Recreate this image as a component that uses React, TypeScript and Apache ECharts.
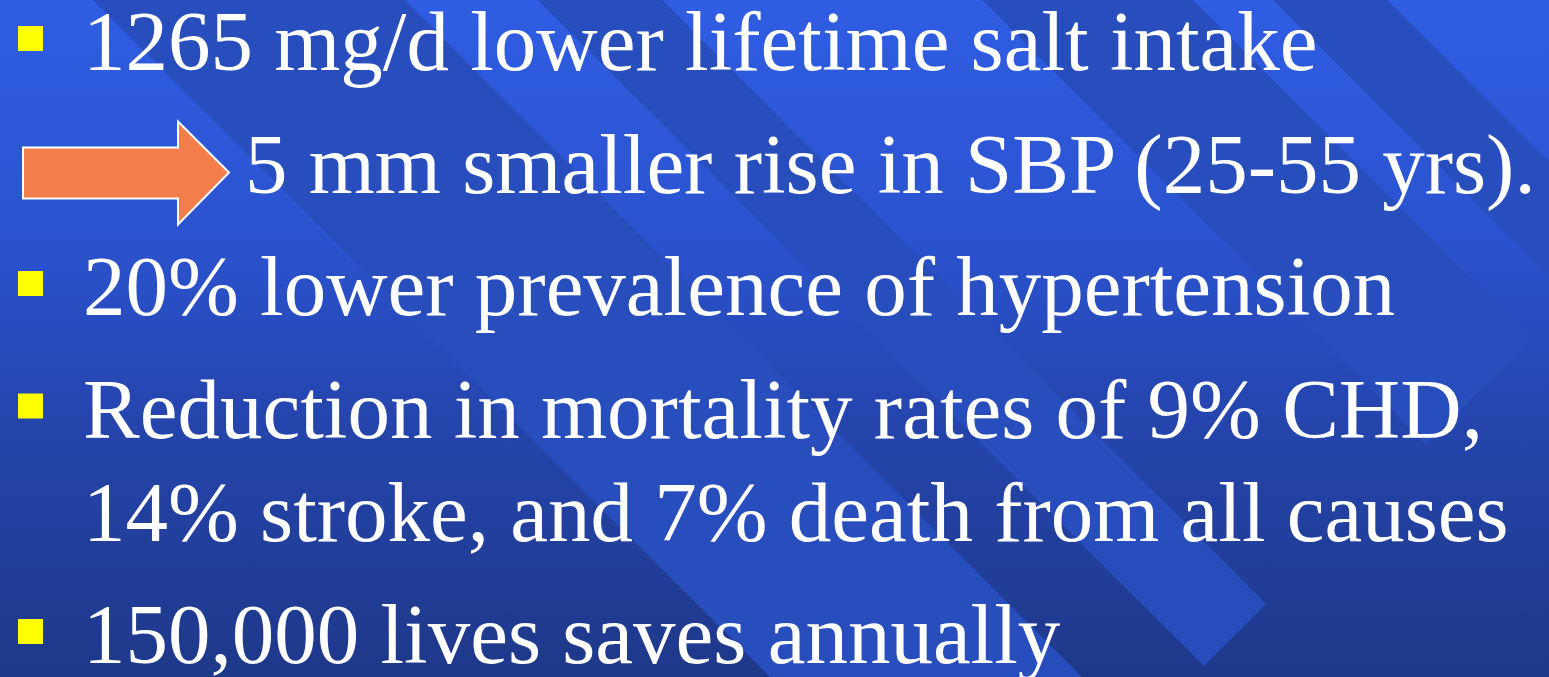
import React, { useEffect, useRef } from "react";
import * as echarts from "echarts";

// ---- slide content ----
const bulletParagraphs: string[][] = [
  ["1265 mg/d lower lifetime salt intake"],
  ["20% lower prevalence of hypertension"],
  ["Reduction in mortality rates of 9% CHD,", "14% stroke, and 7% death from all causes"],
  ["150,000 lives saves annually"],
];
const arrowLine = "5 mm smaller rise in SBP (25-55 yrs).";

const W = 1549;
const H = 677;
const FONT = '85px "Liberation Serif", "Times New Roman", serif';

export default function App() {
  const ref = useRef<HTMLDivElement>(null);

  useEffect(() => {
    if (!ref.current) return;
    const chart = echarts.init(ref.current, undefined, { renderer: "svg", width: W, height: H });

    const elements: any[] = [];

    // background gradient
    elements.push({
      type: "rect",
      shape: { x: 0, y: 0, width: W, height: H },
      style: {
        fill: new echarts.graphic.LinearGradient(0, 0, 0, 1, [
          { offset: 0, color: "#2f5de3" },
          { offset: 0.35, color: "#2b53cf" },
          { offset: 0.62, color: "#2545ad" },
          { offset: 1, color: "#1e3889" },
        ]),
      },
      silent: true,
    });

    // diagonal ribbons (45°), bounded by x - y in [a, b], cut at x + y = END
    const END = 1870;
    const ribbons = [
      [93, 405],
      [538, 662],
      [982, 1193],
      [1273, 1387],
    ];
    ribbons.forEach(([a, b]) => {
      const top = -20;
      elements.push({
        type: "polygon",
        shape: {
          points: [
            [a + top, top],
            [b + top, top],
            [(b + END) / 2, (END - b) / 2],
            [(a + END) / 2, (END - a) / 2],
          ],
        },
        style: { fill: "#284ebd" },
        silent: true,
      });
    });

    // bullet paragraphs layout
    const textX = 83;
    const firstBaseline = 70;
    const paraGap = 122.5;
    const lineGap = 103;
    const centerOffset = 29;
    const textStyle = (text: string) => ({
      text,
      font: FONT,
      fill: "#ffffff",
      verticalAlign: "middle",
      align: "left",
      lineHeight: 78,
    });

    let baseline = firstBaseline;
    bulletParagraphs.forEach((lines, pi) => {
      if (pi === 1) {
        // arrow line sits between paragraph 1 and 2
        baseline += paraGap;
        const arrowBase = baseline;
        const cy = arrowBase - 20;
        elements.push({
          type: "polygon",
          shape: {
            points: [
              [23, cy - 25],
              [178, cy - 25],
              [178, cy - 51],
              [229, cy],
              [178, cy + 52],
              [178, cy + 26],
              [23, cy + 26],
            ],
          },
          style: { fill: "#f47e4b", stroke: "#ffffff", lineWidth: 2 },
          silent: true,
        });
        elements.push({
          type: "text",
          x: 245,
          y: arrowBase - centerOffset,
          style: textStyle(arrowLine),
          silent: true,
        });
      }
      if (pi > 0) baseline += paraGap;
      lines.forEach((line, li) => {
        if (li > 0) baseline += lineGap;
        if (li === 0) {
          elements.push({
            type: "rect",
            shape: { x: 18, y: baseline - 44, width: 25, height: 25 },
            style: { fill: "#ffff00" },
            silent: true,
          });
        }
        elements.push({
          type: "text",
          x: textX,
          y: baseline - centerOffset,
          style: textStyle(line),
          silent: true,
        });
      });
    });

    chart.setOption({ animation: false, graphic: { elements } });
    return () => chart.dispose();
  }, []);

  return (
    <div
      ref={ref}
      style={{ position: "fixed", left: 0, top: 0, width: W, height: H, overflow: "hidden" }}
    />
  );
}
